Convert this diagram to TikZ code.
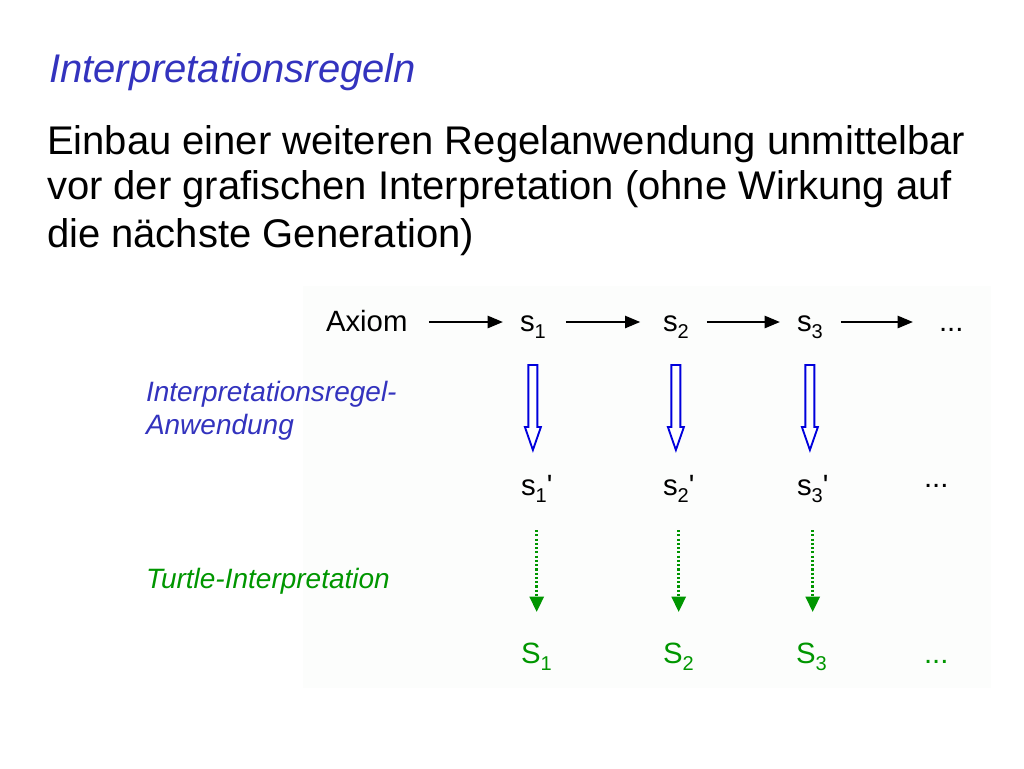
\documentclass[tikz,border=0pt]{standalone}
\usepackage{fontspec}
\setmainfont{Liberation Sans}
\usetikzlibrary{arrows.meta,calc}
\definecolor{ttlblue}{RGB}{51,51,190}
\definecolor{grn}{RGB}{0,150,0}
\definecolor{arrblue}{RGB}{0,0,220}
\definecolor{panelbg}{RGB}{252,253,252}
\newcommand\subx[1]{\raisebox{-5.5pt}{\fontsize{15}{15}\selectfont #1}}
\newcommand\primex{\textquotesingle}
\begin{document}
\begin{tikzpicture}[x=0.75pt,y=-0.75pt,
  every node/.style={inner sep=0pt, outer sep=0pt, anchor=base west},
  ttl/.style={font=\fontsize{30}{36}\selectfont\itshape, text=ttlblue},
  body/.style={font=\fontsize{30}{36}\selectfont},
  lbl/.style={font=\fontsize{21}{24.75}\selectfont\itshape, align=left, anchor=north west},
  st/.style={font=\fontsize{22}{26}\selectfont, text height=19.5pt, text depth=6pt},
  arr/.style={line width=1.9pt, -{Triangle[length=11.5pt,width=9pt]}},
  barrow/.style={draw=arrblue, line width=1.4pt, fill=white, line join=miter},
  garrow/.style={draw=grn, line width=2pt, dash pattern=on 1.6pt off 1.6pt,
                 -{Triangle[length=11.5pt,width=10.5pt]},
                 shorten <=20.25pt, shorten >=18.75pt}
]
\useasboundingbox (0,0) rectangle (1024,768);
\fill[panelbg] (303,286) rectangle (991,688);

\node[ttl] (title) at (49,82) {Interpretationsregeln};
\node[body] (b1) at (47,154) {Einbau einer weiteren Regelanwendung unmittelbar};
\node[body] (b2) at (47,199) {vor der grafischen Interpretation (ohne Wirkung auf};
\node[body] (b3) at (47,247) {die nächste Generation)};

% row 1
\node[st] (ax) at (326,331) {Axiom};
\node[st] (s1) at (520,331) {s\subx{1}};
\node[st] (s2) at (663,331) {s\subx{2}};
\node[st] (s3) at (797,331) {s\subx{3}};
\node[st] (d1) at (939,331) {...};

% row 2
\node[st] (p1) at (521,495) {s\subx{1}\primex};
\node[st] (p2) at (663,495) {s\subx{2}\primex};
\node[st] (p3) at (797,495) {s\subx{3}\primex};
\node[st] (d2) at (924,487) {...};

% row 3
\node[st, text=grn] (g1) at (521,663) {S\subx{1}};
\node[st, text=grn] (g2) at (663,663) {S\subx{2}};
\node[st, text=grn] (g3) at (796,663) {S\subx{3}};
\node[st, text=grn] (d3) at (924,663) {...};

% labels
\node[lbl, text=ttlblue] (l1) at (146,381) {Interpretationsregel-\\Anwendung};
\node[lbl, text=grn] (l2) at (146,568) {Turtle-Interpretation};

% row 1 arrows
\draw[arr, shorten <=16pt, shorten >=12.75pt] (ax.east) -- (s1.west);
\draw[arr, shorten <=15pt, shorten >=17pt] (s1.east) -- (s2.west);
\draw[arr, shorten <=13.5pt, shorten >=12.75pt] (s2.east) -- (s3.west);
\draw[arr, shorten <=13.5pt, shorten >=19.5pt] (s3.east) -- (d1.west);

% block arrows (rule application)
\foreach \n in {1,2,3}{
  \draw[barrow] ($(s\n.south)+(-4.5,26)$) -- ++(9,0) -- ++(0,62) -- ++(3.5,0)
     -- ++(-8,23) -- ++(-8,-23) -- ++(3.5,0) -- cycle;
}

% dotted green arrows (turtle interpretation)
\draw[garrow] (p1.south) -- (p1.south |- g1.north);
\draw[garrow] (p2.south) -- (p2.south |- g2.north);
\draw[garrow] (p3.south) -- (p3.south |- g3.north);
\end{tikzpicture}
\end{document}
